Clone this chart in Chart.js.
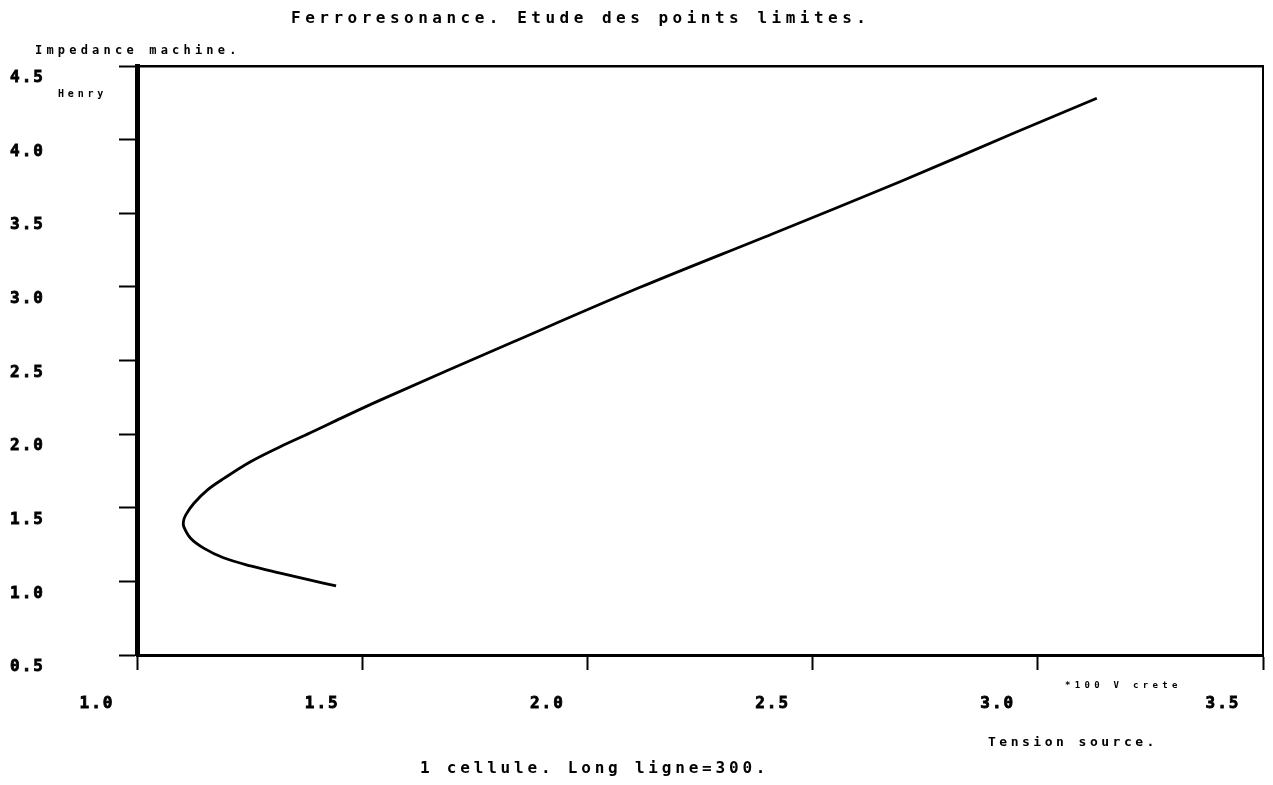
<!DOCTYPE html>
<html>
<head>
<meta charset="utf-8">
<script src="https://cdn.jsdelivr.net/npm/chart.js@4.4.1/dist/chart.umd.min.js"></script>
<style>
  body { margin: 0; background: #fff; }
  canvas { display: block; }
</style>
</head>
<body>

<canvas id="ferroChart" width="1273" height="785"></canvas>

<script>
// source voltage (x100 V crete) and machine impedance (Henry) along the limit curve
var tensionSource = [3.131, 2.946, 2.694, 2.413, 2.117, 1.836, 1.540, 1.444, 1.385, 1.318,
                     1.252, 1.193, 1.156, 1.126, 1.108, 1.103, 1.104, 1.119, 1.148, 1.192,
                     1.252, 1.318, 1.385, 1.442];
var impedance     = [4.281, 4.043, 3.714, 3.363, 2.997, 2.627, 2.231, 2.095, 2.009, 1.914,
                     1.812, 1.699, 1.620, 1.529, 1.450, 1.405, 1.370, 1.293, 1.226, 1.160,
                     1.105, 1.056, 1.008, 0.969];

var xTicks = [1.0, 1.5, 2.0, 2.5, 3.0, 3.5];
var yTicks = [0.5, 1.0, 1.5, 2.0, 2.5, 3.0, 3.5, 4.0, 4.5];

var points = tensionSource.map(function (x, i) {
  return {x: x, y: impedance[i]};
});

var mono = 'DejaVu Sans Mono';

// captions written around the frame
var notes = [
  {text: 'Ferroresonance. Etude des points limites.', x: 291, y: 19, size: 16, spacing: 4.5},
  {text: 'Impedance machine.', x: 35, y: 51, size: 12, spacing: 4.2},
  {text: 'Henry', x: 58, y: 94, size: 10, spacing: 3.8},
  {text: '*100 V crete', x: 1065, y: 686, size: 9, spacing: 4.3},
  {text: 'Tension source.', x: 988, y: 743, size: 13, spacing: 3.5},
  {text: '1 cellule. Long ligne=300.', x: 420, y: 769, size: 16, spacing: 3.8}
];

var notesPlugin = {
  id: 'notes',
  beforeDraw: function (chart) {
    chart.ctx.letterSpacing = '2px';
  },
  afterDraw: function (chart) {
    var ctx = chart.ctx;
    ctx.save();
    ctx.fillStyle = '#000';
    ctx.textAlign = 'left';
    ctx.textBaseline = 'middle';
    notes.forEach(function (n) {
      ctx.font = 'bold ' + n.size + 'px "' + mono + '"';
      ctx.letterSpacing = n.spacing + 'px';
      ctx.fillText(n.text, n.x, n.y);
    });
    ctx.restore();
  }
};

function pickTicks(list) {
  return function (scale) {
    scale.ticks = list.map(function (v) { return {value: v}; });
  };
}

// fixed axis boxes, no extra room for overhanging labels
function fixSize(w, h) {
  return function (scale) {
    if (w !== null) scale.width = w;
    if (h !== null) scale.height = h;
    scale.paddingLeft = scale.paddingRight = 0;
    scale.paddingTop = scale.paddingBottom = 0;
  };
}

var tickFont = {family: mono, size: 16, weight: 'bold'};

var chart = new Chart('ferroChart', {
  type: 'scatter',
  data: {
    datasets: [{
      data: points,
      showLine: true,
      borderColor: '#000',
      borderWidth: 2.8,
      pointRadius: 0,
      tension: 0.35,
      fill: false
    }]
  },
  options: {
    responsive: false,
    animation: false,
    devicePixelRatio: 1,
    layout: {padding: {left: 10, top: 66, right: 10, bottom: 0}},
    plugins: {
      legend: {display: false},
      tooltip: {enabled: false}
    },
    scales: {
      x: {
        type: 'linear',
        position: 'bottom',
        min: 1.0,
        max: 3.5,
        afterBuildTicks: pickTicks(xTicks),
        afterFit: fixSize(null, 130),
        border: {display: true, color: '#000', width: 3},
        grid: {drawOnChartArea: false, drawTicks: true, tickLength: 15, tickWidth: 2, tickColor: '#000', color: '#000'},
        ticks: {
          color: '#000',
          font: tickFont,
          textStrokeColor: '#000',
          textStrokeWidth: 0.8,
          padding: 24,
          labelOffset: -40,
          maxRotation: 0,
          autoSkip: false,
          callback: function (v) { return v.toFixed(1); }
        }
      },
      y: {
        type: 'linear',
        position: 'left',
        min: 0.5,
        max: 4.5,
        afterBuildTicks: pickTicks(yTicks),
        afterFit: fixSize(127, null),
        border: {display: true, color: '#000', width: 5},
        grid: {drawOnChartArea: false, drawTicks: true, tickLength: 18, tickWidth: 2, tickColor: '#000', color: '#000'},
        ticks: {
          color: '#000',
          font: tickFont,
          textStrokeColor: '#000',
          textStrokeWidth: 0.8,
          crossAlign: 'far',
          labelOffset: 12,
          autoSkip: false,
          callback: function (v) { return v.toFixed(1); }
        }
      },
      xTop: {
        type: 'linear',
        position: 'top',
        min: 1.0,
        max: 3.5,
        afterFit: fixSize(null, 0),
        border: {display: true, color: '#000', width: 2.5},
        grid: {display: false, drawTicks: false},
        ticks: {display: false}
      },
      yRight: {
        type: 'linear',
        position: 'right',
        min: 0.5,
        max: 4.5,
        afterFit: fixSize(0, null),
        border: {display: true, color: '#000', width: 2},
        grid: {display: false, drawTicks: false},
        ticks: {display: false}
      }
    }
  },
  plugins: [notesPlugin]
});
</script>

</body>
</html>
